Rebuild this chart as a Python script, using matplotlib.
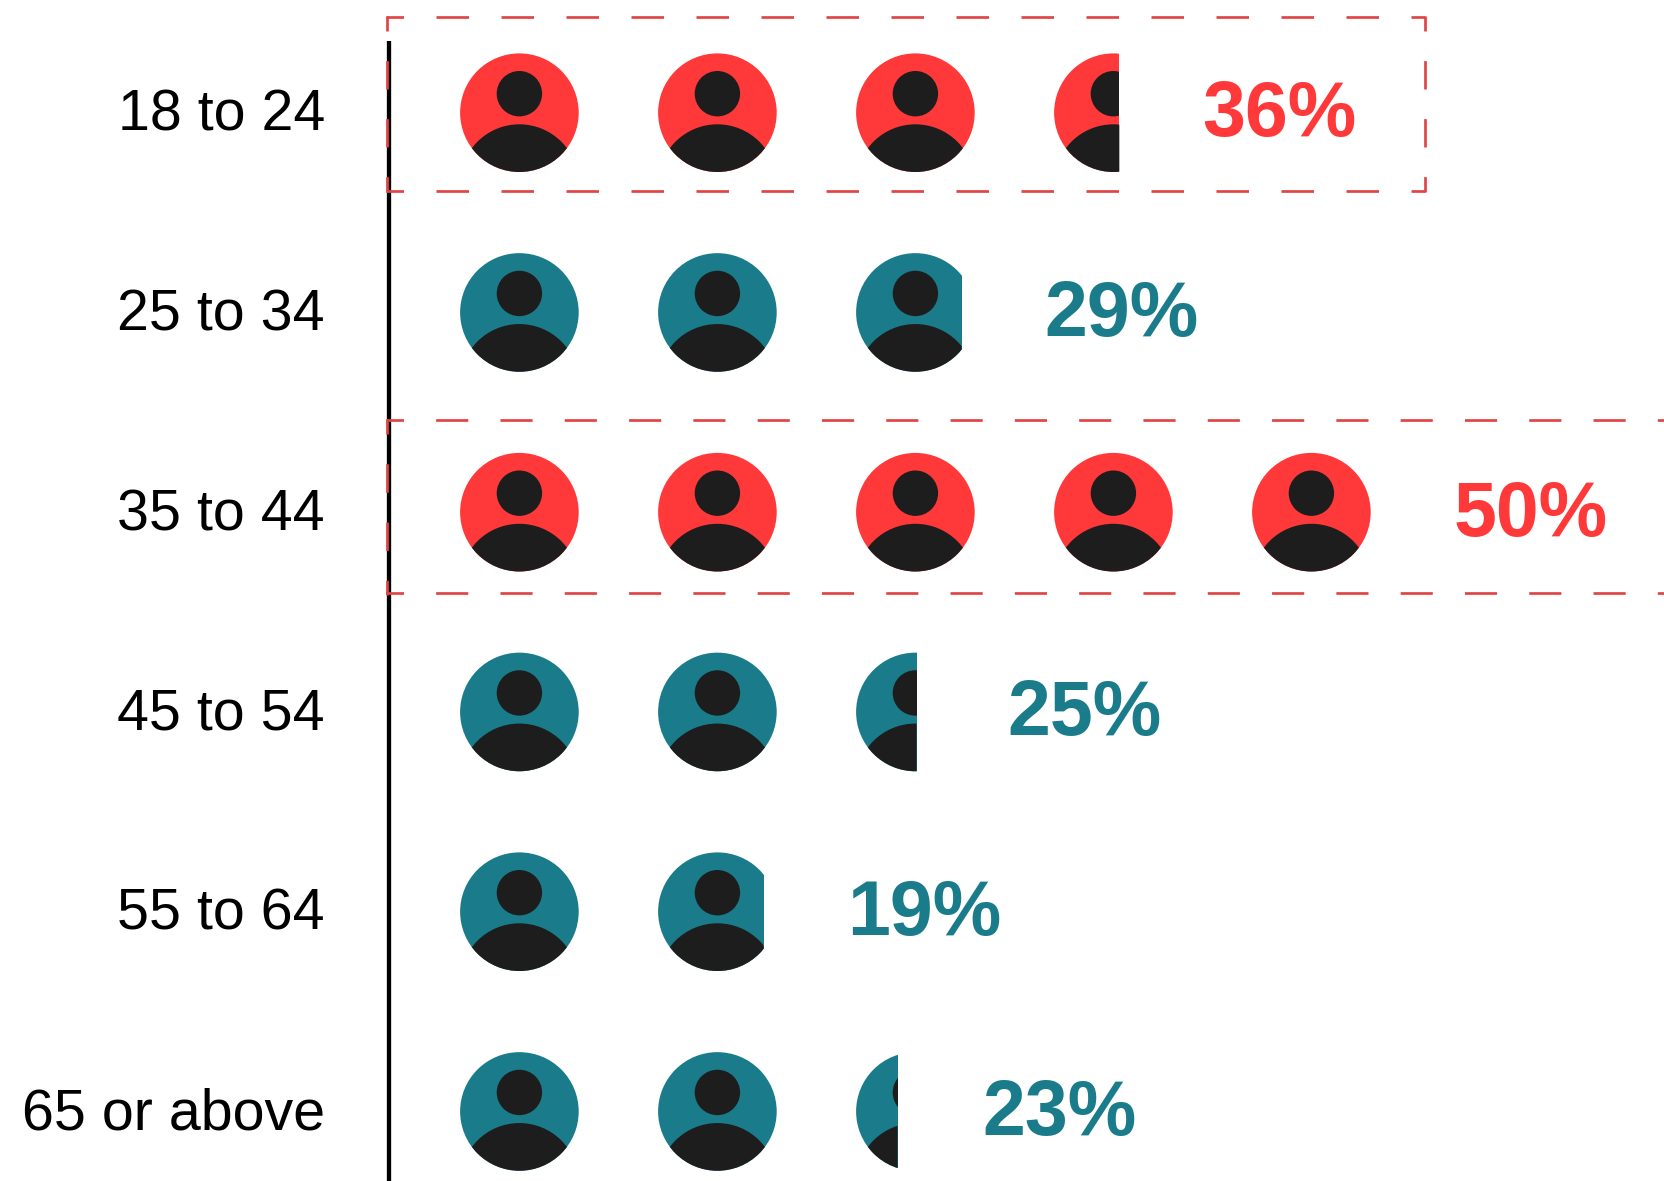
import matplotlib
matplotlib.use("Agg")
import matplotlib.pyplot as plt
from matplotlib.patches import Circle, Rectangle
from matplotlib.path import Path

age_groups = ["18 to 24", "25 to 34", "35 to 44", "45 to 54", "55 to 64", "65 or above"]
percent = [36, 29, 50, 25, 19, 23]
icon_counts = [3.55, 2.89, 5.0, 2.51, 1.89, 2.35]
highlight = [True, False, True, False, False, False]

W, H = 1665, 1181
RED, TEAL, DARK, DASH = "#FF3939", "#1A7C8A", "#1D1D1D", "#E04444"
X0, DX, Y0, DY, R = 519.4, 198.0, 112.7, 199.75, 59.3
LABEL_GAP = [83, 83, 83, 90.5, 83, 85]
PX = 0.72
DASH_LW = 2.7 * PX

fig = plt.figure(figsize=(W / 100, H / 100), dpi=100)
ax = fig.add_axes([0, 0, 1, 1])
ax.set_xlim(0, W)
ax.set_ylim(H, 0)
ax.axis("off")

ax.plot([389.2, 389.2], [41, H], color="black", lw=4.3 * PX, solid_capstyle="butt", zorder=1)


def dashed(xa, ya, xb, yb, on, off, first):
    k = PX / DASH_LW
    ax.plot([xa, xb], [ya, yb], color=DASH, lw=DASH_LW, zorder=5,
            linestyle=((on - first) * k, (on * k, off * k)), dash_capstyle="butt")


def box(top, height, right, closed, pitch_x, pitch_y):
    bottom = top + height
    for yy in (top, bottom):
        dashed(386.2, yy, right, yy, pitch_x / 2, pitch_x / 2, 17.5)
    edges = (387.2, right) if closed else (387.2,)
    for xx in edges:
        dashed(xx, top - 1.2, xx, bottom + 1.2, pitch_y / 2 - 0.6, pitch_y / 2 + 0.6, 15)


for row, (name, pct, n, hi) in enumerate(zip(age_groups, percent, icon_counts, highlight)):
    y = Y0 + row * DY
    color = RED if hi else TEAL
    whole = int(n)
    frac = n - whole
    count = whole + (1 if frac > 0 else 0)
    for i in range(count):
        x = X0 + i * DX
        width = 2 * R * (frac if i == whole else 1)
        clip = Rectangle((x - R, y - R - 1), width, 2 * R + 2, transform=ax.transData)
        disc = Circle((x, y), R, fc=color, ec="none", zorder=2)
        ax.add_patch(disc)
        disc.set_clip_path(clip)
        head = Circle((x, y - 19), 22.7, fc=DARK, ec="none", zorder=3)
        ax.add_patch(head)
        head.set_clip_path(clip)
        body = Circle((x, y + 70.9), R, fc=DARK, ec="none", zorder=3)
        ax.add_patch(body)
        circ = Path.circle((x, y), R)
        shape = circ.interpolated(1).clip_to_bbox((x - R - 1, y - R - 1, x - R + width, y + R + 1), inside=True)
        body.set_clip_path(shape, ax.transData)
    ax.text(325, y + 18, name, ha="right", va="baseline", fontsize=41.3,
            family="Liberation Sans", color="black", zorder=4)
    end = X0 - R + DX * whole + 2 * R * frac if frac > 0 else X0 + DX * (whole - 1) + R
    ax.text(end + LABEL_GAP[row], y + 23.5, f"{pct}%", ha="left", va="baseline", fontsize=55.5,
            family="Liberation Sans", fontweight="bold", color=color, zorder=4)

box(17.3, 173.4, 1425.4, True, 65.0, 58.0)
box(420.0, 173.4, W + 5, False, 64.3, 58.3)

fig.savefig("out.png", dpi=100, facecolor="white")
